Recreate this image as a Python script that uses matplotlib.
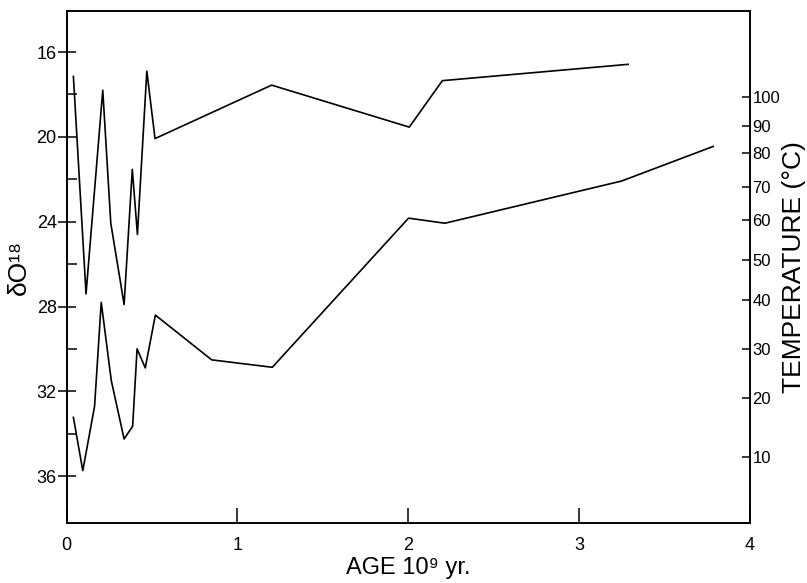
import numpy as np
import matplotlib
matplotlib.use('Agg')
import matplotlib.pyplot as plt

# upper curve (delta O18 vs age, 10^9 yr)
age_upper = [0.039, 0.113, 0.211, 0.258, 0.336, 0.384, 0.414, 0.469, 0.517,
             1.20, 2.006, 2.20, 3.288]
d18_upper = [17.15, 27.4, 17.8, 24.07, 27.9, 21.53, 24.6, 16.9, 20.08,
             17.56, 19.54, 17.35, 16.58]

# lower curve
age_lower = [0.039, 0.094, 0.163, 0.202, 0.261, 0.336, 0.386, 0.412, 0.46,
             0.519, 0.849, 1.204, 2.002, 2.215, 3.25, 3.786]
d18_lower = [33.22, 35.73, 32.7, 27.8, 31.49, 34.24, 33.64, 29.99, 30.89,
             28.4, 30.51, 30.86, 23.83, 24.07, 22.08, 20.45]

# left axis ticks
d18_major = [16, 20, 24, 28, 32, 36]
d18_minor = [18, 22, 26, 30, 34]

# temperature scale (labels and where they sit on the delta O18 axis)
temp_labels = ['100', '90', '80', '70', '60', '50', '40', '30', '20', '10']
temp_pos = [18.12, 19.50, 20.78, 22.37, 23.94, 25.78, 27.71, 29.98, 32.33, 35.07]

x_ticks = [0, 1, 2, 3, 4]

plt.rcParams['font.family'] = ['Liberation Sans', 'DejaVu Sans']

fig = plt.figure(figsize=(8.07, 5.83), dpi=100)
ax = fig.add_axes([0.0827, 0.1029, 0.8463, 0.8781])

ax.plot(age_upper, d18_upper, color='black', lw=1.2)
ax.plot(age_lower, d18_lower, color='black', lw=1.2)

ax.set_xlim(0, 4)
ax.set_ylim(38.2, 14.07)

for s in ax.spines.values():
    s.set_linewidth(1.2)

ax.set_xticks(x_ticks)
ax.set_xticklabels([str(v) for v in x_ticks], fontsize=13)
ax.tick_params(axis='x', direction='in', length=11, width=1.1, pad=10)

ax.set_yticks(d18_major)
ax.set_yticklabels([str(v) for v in d18_major], fontsize=13)
ax.set_yticks(d18_minor, minor=True)
ax.tick_params(axis='y', which='major', direction='inout', length=12.5, width=1.1, pad=1)
ax.tick_params(axis='y', which='minor', direction='in', length=7, width=1.1)

ax.set_xlabel('AGE 10⁹ yr.', fontsize=17, labelpad=2)
ax.set_ylabel('δO¹⁸', fontsize=19, labelpad=4)

ax2 = ax.twinx()
ax2.set_ylim(ax.get_ylim())
ax2.set_yticks(temp_pos)
ax2.set_yticklabels(temp_labels, fontsize=12)
ax2.tick_params(axis='y', direction='in', length=6, width=1.1, pad=2)
ax2.set_ylabel('TEMPERATURE (°C)', fontsize=19, labelpad=1)
for s in ax2.spines.values():
    s.set_linewidth(1.2)

fig.savefig('out.png', dpi=100)
